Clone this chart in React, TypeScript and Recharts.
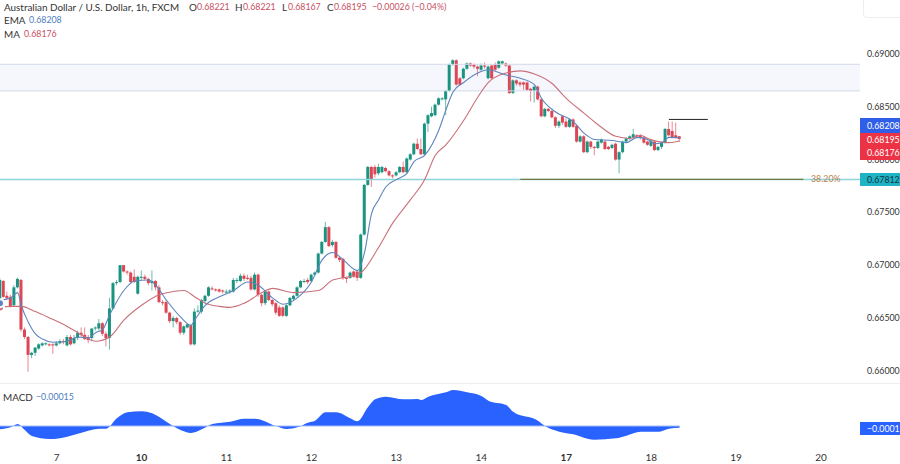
import { Area, Bar, ComposedChart, Line, ReferenceArea, ReferenceLine, XAxis, YAxis } from 'recharts';

const FONT = "Lato, 'Noto Sans', sans-serif";
const UP = '#1a9480';
const DOWN = '#dc4655';

// hourly candles, one entry per bar from the left edge of the chart
const open = [
  0.6659,0.6685,0.6671,0.6670,0.6662,0.6679,0.6686,0.6639,0.6632,0.6615,0.6617,0.6621,0.6624,0.6625,0.6625,0.6625,0.6624,0.6626,0.6628,0.6624,
  0.6632,0.6626,0.6631,0.6636,0.6634,0.6632,0.6631,0.6640,0.6640,0.6645,0.6635,0.6631,0.6659,0.6683,0.6684,0.6700,0.6694,0.6693,0.6689,0.6673,
  0.6688,0.6689,0.6687,0.6683,0.6685,0.6679,0.6665,0.6665,0.6655,0.6647,0.6650,0.6646,0.6636,0.6641,0.6643,0.6625,0.6656,0.6656,0.6666,0.6671,
  0.6678,0.6677,0.6677,0.6676,0.6674,0.6675,0.6675,0.6685,0.6685,0.6690,0.6688,0.6688,0.6677,0.6691,0.6672,0.6664,0.6675,0.6667,0.6664,0.6660,
  0.6660,0.6652,0.6662,0.6668,0.6671,0.6679,0.6684,0.6686,0.6685,0.6691,0.6693,0.6711,0.6722,0.6736,0.6719,0.6722,0.6707,0.6706,0.6688,0.6688,
  0.6694,0.6694,0.6688,0.6729,0.6776,0.6793,0.6793,0.6787,0.6788,0.6792,0.6789,0.6785,0.6785,0.6788,0.6793,0.6788,0.6800,0.6805,0.6815,0.6810,
  0.6805,0.6834,0.6841,0.6842,0.6852,0.6857,0.6857,0.6865,0.6890,0.6894,0.6877,0.6877,0.6886,0.6891,0.6890,0.6888,0.6885,0.6889,0.6877,0.6889,
  0.6890,0.6887,0.6891,0.6891,0.6889,0.6863,0.6875,0.6873,0.6873,0.6873,0.6867,0.6865,0.6869,0.6857,0.6841,0.6848,0.6846,0.6840,0.6832,0.6841,
  0.6836,0.6831,0.6838,0.6832,0.6817,0.6822,0.6807,0.6817,0.6812,0.6811,0.6816,0.6817,0.6812,0.6811,0.6815,0.6800,0.6807,0.6817,0.6820,0.6821,
  0.6823,0.6823,0.6821,0.6817,0.6813,0.6817,0.6809,0.6812,0.6816,0.6829,0.6827,0.6823,0.68221,
];
const high = [
  0.6688,0.6686,0.6675,0.6672,0.6681,0.6688,0.6687,0.6641,0.6633,0.6618,0.6622,0.6626,0.6627,0.6627,0.6626,0.6626,0.6628,0.6630,0.6630,0.6634,
  0.6634,0.6634,0.6638,0.6641,0.6641,0.6634,0.6640,0.6642,0.6649,0.6646,0.6637,0.6669,0.6684,0.6686,0.6700,0.6700,0.6695,0.6694,0.6696,0.6690,
  0.6695,0.6691,0.6688,0.6695,0.6686,0.6681,0.6667,0.6667,0.6656,0.6652,0.6651,0.6647,0.6643,0.6644,0.6644,0.6659,0.6662,0.6668,0.6672,0.6680,
  0.6680,0.6678,0.6678,0.6677,0.6677,0.6677,0.6688,0.6688,0.6692,0.6692,0.6691,0.6690,0.6693,0.6692,0.6673,0.6676,0.6676,0.6668,0.6665,0.6662,
  0.6661,0.6663,0.6670,0.6672,0.6680,0.6686,0.6687,0.6688,0.6692,0.6694,0.6712,0.6723,0.6741,0.6737,0.6724,0.6723,0.6708,0.6707,0.6689,0.6694,
  0.6695,0.6695,0.6730,0.6777,0.6794,0.6794,0.6795,0.6796,0.6794,0.6793,0.6790,0.6786,0.6789,0.6794,0.6798,0.6802,0.6806,0.6816,0.6820,0.6820,
  0.6835,0.6843,0.6850,0.6853,0.6859,0.6859,0.6866,0.6891,0.6895,0.6895,0.6878,0.6887,0.6892,0.6892,0.6891,0.6889,0.6891,0.6892,0.6889,0.6890,
  0.6892,0.6894,0.6894,0.6892,0.6890,0.6876,0.6876,0.6874,0.6874,0.6874,0.6868,0.6870,0.6870,0.6858,0.6849,0.6849,0.6847,0.6841,0.6837,0.6842,
  0.6839,0.6839,0.6839,0.6833,0.6823,0.6823,0.6818,0.6818,0.6813,0.6818,0.6820,0.6818,0.6813,0.6815,0.6816,0.6808,0.6818,0.6821,0.6823,0.6829,
  0.6824,0.6824,0.6822,0.6818,0.6819,0.6818,0.6813,0.6817,0.6830,0.6836,0.6836,0.6835,0.68221,
];
const low = [
  0.6658,0.6669,0.6667,0.6660,0.6661,0.6678,0.6637,0.6630,0.6599,0.6612,0.6614,0.6620,0.6623,0.6624,0.6623,0.6616,0.6623,0.6625,0.6625,0.6623,
  0.6624,0.6625,0.6629,0.6632,0.6629,0.6626,0.6628,0.6638,0.6638,0.6633,0.6623,0.6620,0.6658,0.6681,0.6683,0.6693,0.6691,0.6683,0.6683,0.6672,
  0.6686,0.6686,0.6681,0.6676,0.6676,0.6664,0.6662,0.6654,0.6645,0.6641,0.6644,0.6634,0.6634,0.6640,0.6624,0.6624,0.6655,0.6654,0.6664,0.6670,
  0.6676,0.6675,0.6674,0.6673,0.6673,0.6673,0.6674,0.6683,0.6684,0.6685,0.6686,0.6676,0.6676,0.6670,0.6661,0.6662,0.6666,0.6661,0.6653,0.6651,
  0.6651,0.6651,0.6661,0.6667,0.6670,0.6678,0.6683,0.6682,0.6684,0.6690,0.6692,0.6710,0.6721,0.6717,0.6717,0.6706,0.6703,0.6686,0.6683,0.6687,
  0.6688,0.6685,0.6687,0.6728,0.6775,0.6774,0.6783,0.6785,0.6787,0.6788,0.6784,0.6782,0.6784,0.6787,0.6787,0.6787,0.6799,0.6804,0.6809,0.6804,
  0.6804,0.6826,0.6840,0.6841,0.6851,0.6856,0.6842,0.6864,0.6889,0.6870,0.6870,0.6876,0.6885,0.6888,0.6886,0.6879,0.6884,0.6886,0.6876,0.6876,
  0.6884,0.6886,0.6890,0.6888,0.6862,0.6862,0.6870,0.6869,0.6866,0.6865,0.6855,0.6854,0.6856,0.6840,0.6840,0.6845,0.6839,0.6830,0.6830,0.6833,
  0.6830,0.6830,0.6830,0.6816,0.6816,0.6806,0.6806,0.6810,0.6804,0.6810,0.6815,0.6809,0.6809,0.6810,0.6799,0.6787,0.6806,0.6816,0.6818,0.6820,
  0.6820,0.6819,0.6815,0.6813,0.6812,0.6808,0.6808,0.6810,0.6815,0.6822,0.6820,0.6820,0.68167,
];
const close = [
  0.6686,0.6670,0.6669,0.6661,0.6679,0.6687,0.6639,0.6632,0.6615,0.6617,0.6622,0.6625,0.6626,0.6626,0.6624,0.6624,0.6626,0.6628,0.6627,0.6632,
  0.6625,0.6631,0.6636,0.6634,0.6630,0.6629,0.6640,0.6641,0.6645,0.6635,0.6631,0.6659,0.6683,0.6684,0.6700,0.6694,0.6693,0.6684,0.6684,0.6689,
  0.6689,0.6687,0.6683,0.6685,0.6679,0.6665,0.6664,0.6655,0.6647,0.6650,0.6646,0.6636,0.6642,0.6644,0.6625,0.6656,0.6657,0.6667,0.6671,0.6679,
  0.6677,0.6676,0.6675,0.6675,0.6675,0.6676,0.6686,0.6686,0.6690,0.6687,0.6687,0.6677,0.6691,0.6672,0.6664,0.6675,0.6667,0.6663,0.6655,0.6652,
  0.6652,0.6662,0.6669,0.6671,0.6679,0.6685,0.6685,0.6684,0.6691,0.6693,0.6711,0.6722,0.6736,0.6718,0.6722,0.6707,0.6705,0.6688,0.6687,0.6693,
  0.6689,0.6688,0.6729,0.6776,0.6793,0.6781,0.6786,0.6793,0.6793,0.6789,0.6785,0.6784,0.6788,0.6793,0.6788,0.6801,0.6805,0.6815,0.6810,0.6805,
  0.6834,0.6842,0.6844,0.6852,0.6858,0.6858,0.6865,0.6890,0.6894,0.6871,0.6871,0.6886,0.6891,0.6889,0.6888,0.6886,0.6889,0.6888,0.6888,0.6877,
  0.6885,0.6893,0.6893,0.6889,0.6863,0.6875,0.6872,0.6871,0.6871,0.6866,0.6865,0.6869,0.6857,0.6841,0.6848,0.6846,0.6840,0.6832,0.6836,0.6835,
  0.6831,0.6838,0.6831,0.6817,0.6822,0.6807,0.6817,0.6812,0.6811,0.6817,0.6819,0.6810,0.6810,0.6814,0.6800,0.6807,0.6817,0.6820,0.6822,0.6824,
  0.6822,0.6821,0.6816,0.6814,0.6818,0.6809,0.6812,0.6816,0.6829,0.6823,0.6821,0.6821,0.68195,
];

const emaHours = [0,1,3,5,6,8,10,12,15,19,22,25,27,29,31,35,38,42,44,47,51,54,55,58,62,66,70,73,77,80,84,88,91,94,97,101,103,105,107,109,112,115,117,120,124,126,128,131,135,138,143,147,151,153,157,162,165,168,173,177,180,183,185,187,189,192];
const emaValues = [0.6664,0.6667,0.6669,0.6674,0.6662,0.6646,0.6635,0.6630,0.6627,0.6628,0.6632,0.6631,0.6636,0.6639,0.6653,0.6676,0.6685,0.6686,0.6681,0.6667,0.6651,0.6643,0.6648,0.6662,0.6670,0.6676,0.6684,0.6681,0.6669,0.6663,0.6669,0.6684,0.6705,0.6712,0.6705,0.6695,0.6712,0.6749,0.6762,0.6774,0.6781,0.6787,0.6798,0.6804,0.6828,0.6847,0.6864,0.6873,0.6882,0.6885,0.6880,0.6877,0.6871,0.6858,0.6845,0.6836,0.6825,0.6819,0.6818,0.6816,0.6821,0.6819,0.6815,0.6816,0.6821,0.68208];
const maHours = [0,3,6,10,14,19,22,25,27,31,35,40,45,49,52,55,58,62,65,69,74,77,83,90,94,97,102,107,111,116,120,123,126,131,135,138,143,147,151,156,160,165,169,174,178,181,183,186,189,192];
const maValues = [0.6660,0.6661,0.6661,0.6656,0.6650,0.6642,0.6636,0.6630,0.6628,0.6632,0.6648,0.6662,0.6672,0.6675,0.6676,0.6670,0.6664,0.6661,0.6660,0.6664,0.6674,0.6678,0.6674,0.6676,0.6686,0.6688,0.6693,0.6717,0.6740,0.6762,0.6781,0.6804,0.6814,0.6837,0.6859,0.6873,0.6882,0.6884,0.6881,0.6872,0.6858,0.6844,0.6833,0.6822,0.6820,0.6823,0.6820,0.6817,0.6816,0.68176];

const macdHours = [0,3,5,7,9,14,19,23,28,30,33,36,40,43,47,51,54,57,60,65,69,72,78,81,84,87,89,92,95,99,101,104,106,109,114,118,119,121,126,128,132,136,138,143,145,152,154,158,162,166,168,174,177,181,186,189,192];
const macdValues = [-0.0003,-0.00012,0.00018,-0.00036,-0.0009,-0.00117,-0.00096,-0.0006,-0.00024,-0.00024,0.00069,0.00123,0.00132,0.00114,0.00039,-0.00036,-0.00063,-0.0003,0.00018,0.00039,0.00066,0.00066,0,-0.00027,-0.00012,0.0003,0.00048,0.00123,0.00123,0.00069,0.00042,0.0017,0.0024,0.00264,0.0024,0.00243,0.00234,0.00264,0.00303,0.00324,0.00303,0.0027,0.00228,0.00189,0.00129,0.00048,0,-0.00051,-0.00075,-0.00114,-0.00123,-0.00111,-0.00087,-0.00051,-0.00051,-0.00024,-0.00015];

const priceTicks = [0.66, 0.665, 0.67, 0.675, 0.68, 0.685, 0.69];
const dayTicks = [16, 40, 64, 88, 112, 136, 160, 184, 208, 232];
const dayLabels = ['7', '10', '11', '12', '13', '14', '17', '18', '19', '20'];
const boldDays = ['10', '17'];

const zoneTop = 0.68902;
const zoneBottom = 0.6865;
const fibLevel = 0.67812;
const fibStart = 147;
const fibEnd = 227;
const highLine = 0.6838;
const highLineStart = 189;
const highLineEnd = 200;

const candles = open.map((o, i) => ({ h: i, open: o, high: high[i], low: low[i], close: close[i], range: [low[i], high[i]] }));
const emaRows = emaHours.map((h, i) => ({ h, ema: emaValues[i] }));
const maRows = maHours.map((h, i) => ({ h, ma: maValues[i] }));
const macdRows = macdHours.map((h, i) => ({ h, macd: macdValues[i] }));

const Candle = (props: any) => {
  const { x, y, width, height, payload } = props;
  const span = payload.high - payload.low;
  const perUnit = span > 0 ? Math.abs(height) / span : 0;
  const yOpen = y + (payload.high - payload.open) * perUnit;
  const yClose = y + (payload.high - payload.close) * perUnit;
  const color = payload.close >= payload.open ? UP : DOWN;
  const mid = x + width / 2;
  return (
    <g>
      <line x1={mid} x2={mid} y1={y} y2={y + Math.abs(height)} stroke={color} strokeOpacity={0.65} />
      <rect x={x} y={Math.min(yOpen, yClose)} width={width} height={Math.max(Math.abs(yClose - yOpen), 1)} fill={color} />
    </g>
  );
};

const DayTick = ({ x, y, payload }: any) => {
  const label = dayLabels[dayTicks.indexOf(payload.value)];
  return (
    <text x={x} y={y + 9} textAnchor="middle" fontSize={10} fontFamily={FONT} fill="#333" fontWeight={boldDays.includes(label) ? 700 : 400}>
      {label}
    </text>
  );
};

const Tag = ({ top, height, bg, color, children }: any) => (
  <div style={{ position: 'absolute', left: 860, top, width: 40, height, background: bg, color, fontSize: 8.8, lineHeight: `${height}px`, paddingLeft: 7, boxSizing: 'border-box', overflow: 'hidden', whiteSpace: 'nowrap' }}>
    {children}
  </div>
);

const Text = ({ left, top, color, size = 9.9, children }: any) => (
  <div style={{ position: 'absolute', left, top, color, fontSize: size, lineHeight: '14px', whiteSpace: 'nowrap' }}>{children}</div>
);

export default function App() {
  const ink = '#333';
  const red = '#c8505f';
  const blue = '#4f7dbd';
  return (
    <div style={{ position: 'absolute', left: 0, top: 0, width: 900, height: 464, background: '#fff', overflow: 'hidden', fontFamily: FONT }}>
      <div style={{ position: 'absolute', left: 0, top: 0 }}>
        <ComposedChart width={900} height={383} data={candles} margin={{ top: 0, right: 0, bottom: 0, left: 0 }}>
          <XAxis dataKey="h" type="number" domain={[0, 243]} hide allowDataOverflow />
          <YAxis
            orientation="right"
            width={40}
            domain={[0.65884, 0.69511]}
            ticks={priceTicks}
            tickFormatter={(v: number) => v.toFixed(5)}
            tick={{ fontSize: 8.8, fill: ink, fontFamily: FONT, dx: -1 }}
            axisLine={false}
            tickLine={false}
            allowDataOverflow
          />
          <ReferenceArea x1={0} x2={243} y1={zoneBottom} y2={zoneTop} fill="#f1f4fc" fillOpacity={0.7} stroke="none" />
          <ReferenceLine y={zoneTop} stroke="#d2daea" />
          <ReferenceLine y={zoneBottom} stroke="#d2daea" />
          <ReferenceLine y={fibLevel} stroke="#8fd4d8" strokeWidth={1.5} />
          <ReferenceLine segment={[{ x: fibStart, y: fibLevel }, { x: fibEnd, y: fibLevel }]} stroke="#767a40" strokeWidth={1.2} />
          <ReferenceLine segment={[{ x: highLineStart, y: highLine }, { x: highLineEnd, y: highLine }]} stroke="#222" />
          <Bar dataKey="range" barSize={3} shape={Candle} isAnimationActive={false} />
          <Line data={maRows} dataKey="ma" type="monotone" stroke="#c9707b" strokeWidth={1.1} dot={false} isAnimationActive={false} />
          <Line data={emaRows} dataKey="ema" type="monotone" stroke="#5f84bd" strokeWidth={1.1} dot={false} isAnimationActive={false} />
        </ComposedChart>
      </div>

      <div style={{ position: 'absolute', left: 0, top: 383, width: 900, height: 1, background: '#eeeeee' }} />

      <div style={{ position: 'absolute', left: 0, top: 384 }}>
        <ComposedChart width={900} height={80} data={macdRows} margin={{ top: 0, right: 0, bottom: 0, left: 0 }}>
          <XAxis
            dataKey="h"
            type="number"
            domain={[0, 243]}
            ticks={dayTicks}
            tick={DayTick}
            height={20}
            axisLine={false}
            tickLine={false}
            allowDataOverflow
          />
          <YAxis orientation="right" width={40} domain={[-0.00162, 0.00378]} tick={false} axisLine={false} tickLine={false} allowDataOverflow />
          <Area dataKey="macd" type="monotone" baseValue={0} fill="#2962ff" fillOpacity={1} stroke="none" isAnimationActive={false} />
          <ReferenceLine segment={[{ x: 0, y: 0 }, { x: 192, y: 0 }]} stroke="#a4bdfb" />
        </ComposedChart>
      </div>

      <Text left={4} top={0} color={ink}>Australian Dollar / U.S. Dollar, 1h, FXCM</Text>
      <Text left={189} top={0} color={ink}>O</Text>
      <Text left={197} top={0} color={red} size={8.8}>0.68221</Text>
      <Text left={235} top={0} color={ink}>H</Text>
      <Text left={243} top={0} color={red} size={8.8}>0.68221</Text>
      <Text left={282} top={0} color={ink}>L</Text>
      <Text left={288} top={0} color={red} size={8.8}>0.68167</Text>
      <Text left={327} top={0} color={ink}>C</Text>
      <Text left={334} top={0} color={red} size={8.8}>0.68195</Text>
      <Text left={372} top={0} color={red} size={8.8}>−0.00026 (−0.04%)</Text>

      <Text left={4} top={13} color={ink}>EMA</Text>
      <Text left={29} top={13} color={blue} size={8.8}>0.68208</Text>
      <Text left={4} top={27} color={ink}>MA</Text>
      <Text left={24} top={27} color={red} size={8.8}>0.68176</Text>
      <Text left={3} top={390} color={ink}>MACD</Text>
      <Text left={36} top={390} color={blue} size={8.8}>−0.00015</Text>
      <Text left={811} top={172} color="#b9824f" size={8.8}>38.20%</Text>

      <Tag top={118} height={15} bg="#2f5fe8" color="#fff">0.68208</Tag>
      <Tag top={133} height={13} bg="#ec3345" color="#fff">0.68195</Tag>
      <Tag top={146} height={14} bg="#ec3345" color="#fff">0.68176</Tag>
      <Tag top={173} height={13} bg="#1fb3c6" color="#12333a">0.67812</Tag>
      <Tag top={422} height={13} bg="#2962ff" color="#fff">−0.0001</Tag>

      <div style={{ position: 'absolute', left: 863, top: -4, width: 50, height: 20, border: '1px solid #eeeeee', borderRadius: 4 }} />
    </div>
  );
}
